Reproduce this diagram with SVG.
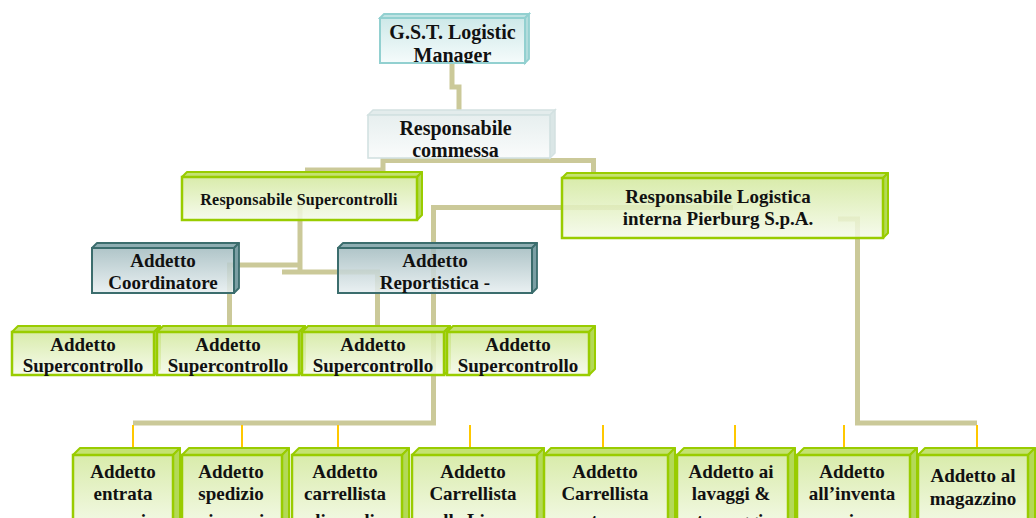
<svg xmlns="http://www.w3.org/2000/svg" width="1036" height="518" viewBox="0 0 1036 518">
  <defs>
    <linearGradient id="gGreen" x1="0" y1="0" x2="0" y2="1">
      <stop offset="0" stop-color="#d2e89c"/>
      <stop offset="1" stop-color="#f5faea"/>
    </linearGradient>
    <linearGradient id="gTeal" x1="0" y1="0" x2="0" y2="1">
      <stop offset="0" stop-color="#a2bbbf"/>
      <stop offset="1" stop-color="#e6eef0"/>
    </linearGradient>
    <linearGradient id="gCyan" x1="0" y1="0" x2="0" y2="1">
      <stop offset="0" stop-color="#c8e6e6"/>
      <stop offset="1" stop-color="#f4fbfb"/>
    </linearGradient>
    <linearGradient id="gPale" x1="0" y1="0" x2="0" y2="1">
      <stop offset="0" stop-color="#e4eded"/>
      <stop offset="1" stop-color="#f9fbfb"/>
    </linearGradient>
    <clipPath id="clipGst"><rect x="380" y="18" width="145" height="45"/></clipPath>
    <clipPath id="clipCommessa"><rect x="368" y="115" width="182" height="43"/></clipPath>
  </defs>
  <style>
    .conn { fill: none; stroke: #cbc999; stroke-width: 5; stroke-linejoin: miter; }
    .tick { stroke: #ffc800; stroke-width: 2; }
    .green .front { fill: url(#gGreen); fill-opacity: 0.85; stroke: #99cc00; stroke-width: 2.5; }
    .green .top { fill: #c4e272; stroke: #99cc00; stroke-width: 2; stroke-linejoin: round; }
    .green .side { fill: #b3d957; stroke: #99cc00; stroke-width: 2; stroke-linejoin: round; }
    .teal .front { fill: url(#gTeal); fill-opacity: 0.85; stroke: #3b6d6d; stroke-width: 2; }
    .teal .top { fill: #8dadb1; stroke: #3b6d6d; stroke-width: 1.8; stroke-linejoin: round; }
    .teal .side { fill: #7b9fa4; stroke: #3b6d6d; stroke-width: 1.8; stroke-linejoin: round; }
    .cyan .front { fill: url(#gCyan); fill-opacity: 0.9; stroke: #92d0d0; stroke-width: 2; }
    .cyan .top { fill: #bfe3e3; stroke: #92d0d0; stroke-width: 1.8; }
    .cyan .side { fill: #b2dcdc; stroke: #92d0d0; stroke-width: 1.8; }
    .pale .front { fill: url(#gPale); fill-opacity: 0.9; stroke: #d3e1e1; stroke-width: 1.6; }
    .pale .top { fill: #e3ecec; stroke: #d3e1e1; stroke-width: 1.5; }
    .pale .side { fill: #dae6e6; stroke: #d3e1e1; stroke-width: 1.5; }
    text { font-family: "Liberation Serif", "Times New Roman", serif; font-weight: bold; fill: #111; text-anchor: middle; }
    .f20 { font-size: 20px; }
    .f19 { font-size: 19px; }
    .f16 { font-size: 16px; letter-spacing: 0.2px; }
  </style>

  <!-- connectors -->
  <g id="connectors">
    <path class="conn" d="M 452 63 V 87 H 459 V 116"/>
    <path class="conn" d="M 305 170 H 383 V 160.5 H 593.5 V 174"/>
    <path class="conn" d="M 300 203 V 274"/>
    <path class="conn" d="M 300 265 H 229.5 V 332"/>
    <path class="conn" d="M 282 272 H 377.5 V 332"/>
    <path class="conn" d="M 733 207.5 H 433.5 V 423 H 133"/>
    <path class="conn" d="M 838 219 H 857.5 V 423 H 977"/>
    <g id="ticks">
      <line class="tick" x1="133" y1="425" x2="133" y2="448"/>
      <line class="tick" x1="242" y1="425" x2="242" y2="448"/>
      <line class="tick" x1="338" y1="425" x2="338" y2="448"/>
      <line class="tick" x1="470" y1="425" x2="470" y2="448"/>
      <line class="tick" x1="603" y1="425" x2="603" y2="448"/>
      <line class="tick" x1="735" y1="425" x2="735" y2="448"/>
      <line class="tick" x1="844" y1="425" x2="844" y2="448"/>
      <line class="tick" x1="977" y1="425" x2="977" y2="448"/>
    </g>
  </g>

  <!-- level 0 -->
  <g id="n_gst" class="cyan">
    <polygon class="top" points="380,18 384,14 529,14 525,18"/>
    <polygon class="side" points="525,18 529,14 529,59 525,63"/>
    <rect class="front" x="380" y="18" width="145" height="45"/>
    <g clip-path="url(#clipGst)">
      <text class="f20" x="452.5" y="39">G.S.T. Logistic</text>
      <text class="f20" x="452.5" y="62">Manager</text>
    </g>
  </g>

  <!-- level 1 -->
  <g id="n_commessa" class="pale">
    <polygon class="top" points="368,115 373,110 555,110 550,115"/>
    <polygon class="side" points="550,115 555,110 555,153 550,158"/>
    <rect class="front" x="368" y="115" width="182" height="43"/>
    <g clip-path="url(#clipCommessa)">
      <text class="f20" x="455.5" y="135">Responsabile</text>
      <text class="f20" x="455.5" y="157">commessa</text>
    </g>
  </g>

  <!-- level 2 -->
  <g id="n_supercontrolli" class="green">
    <polygon class="top" points="182,177 187,172 422,172 417,177"/>
    <polygon class="side" points="417,177 422,172 422,215 417,220"/>
    <rect class="front" x="182" y="177" width="235" height="43"/>
    <text class="f16" x="299" y="205">Responsabile Supercontrolli</text>
  </g>

  <g id="n_logistica" class="green">
    <polygon class="top" points="562,178 567,173 888,173 883,178"/>
    <polygon class="side" points="883,178 888,173 888,233 883,238"/>
    <rect class="front" x="562" y="178" width="321" height="60"/>
    <text class="f19" x="718" y="203">Responsabile Logistica</text>
    <text class="f19" x="718" y="225">interna Pierburg S.p.A.</text>
  </g>

  <!-- level 3 -->
  <g id="n_coordinatore" class="teal">
    <polygon class="top" points="92,248 97,243 239,243 234,248"/>
    <polygon class="side" points="234,248 239,243 239,288 234,293"/>
    <rect class="front" x="92" y="248" width="142" height="45"/>
    <text class="f19" x="163" y="267">Addetto</text>
    <text class="f19" x="163" y="289">Coordinatore</text>
  </g>

  <g id="n_reportistica" class="teal">
    <polygon class="top" points="338,248 343,243 537,243 532,248"/>
    <polygon class="side" points="532,248 537,243 537,288 532,293"/>
    <rect class="front" x="338" y="248" width="194" height="45"/>
    <text class="f19" x="435" y="267">Addetto</text>
    <text class="f19" x="435" y="289">Reportistica -</text>
  </g>

  <!-- level 4 -->
  <g id="n_sc1" class="green">
    <polygon class="top" points="12,332 18,326 160,326 154,332"/>
    <polygon class="side" points="154,332 160,326 160,369 154,375"/>
    <rect class="front" x="12" y="332" width="142" height="43"/>
    <text class="f19" x="83" y="350.5">Addetto</text>
    <text class="f19" x="83" y="372">Supercontrollo</text>
  </g>
  <g id="n_sc2" class="green">
    <polygon class="top" points="157,332 163,326 305,326 299,332"/>
    <polygon class="side" points="299,332 305,326 305,369 299,375"/>
    <rect class="front" x="157" y="332" width="142" height="43"/>
    <text class="f19" x="228" y="350.5">Addetto</text>
    <text class="f19" x="228" y="372">Supercontrollo</text>
  </g>
  <g id="n_sc3" class="green">
    <polygon class="top" points="302,332 308,326 450,326 444,332"/>
    <polygon class="side" points="444,332 450,326 450,369 444,375"/>
    <rect class="front" x="302" y="332" width="142" height="43"/>
    <text class="f19" x="373" y="350.5">Addetto</text>
    <text class="f19" x="373" y="372">Supercontrollo</text>
  </g>
  <g id="n_sc4" class="green">
    <polygon class="top" points="447,332 453,326 595,326 589,332"/>
    <polygon class="side" points="589,332 595,326 595,369 589,375"/>
    <rect class="front" x="447" y="332" width="142" height="43"/>
    <text class="f19" x="518" y="350.5">Addetto</text>
    <text class="f19" x="518" y="372">Supercontrollo</text>
  </g>

  <!-- level 5: boxes run past the bottom edge -->
  <g id="n_entrata" class="green">
    <polygon class="top" points="73,455 80,448 180,448 173,455"/>
    <polygon class="side" points="173,455 180,448 180,528 173,535"/>
    <rect class="front" x="73" y="455" width="100" height="80"/>
    <text class="f19" x="123" y="478">Addetto</text>
    <text class="f19" x="123" y="500">entrata</text>
    <text class="f19" x="123" y="527">merci</text>
  </g>
  <g id="n_spedizioni" class="green">
    <polygon class="top" points="182,455 189,448 289,448 282,455"/>
    <polygon class="side" points="282,455 289,448 289,528 282,535"/>
    <rect class="front" x="182" y="455" width="100" height="80"/>
    <text class="f19" x="231" y="478">Addetto</text>
    <text class="f19" x="231" y="500">spedizio</text>
    <text class="f19" x="231" y="527">ni merci</text>
  </g>
  <g id="n_carrellista_linea" class="green">
    <polygon class="top" points="292,455 299,448 409,448 402,455"/>
    <polygon class="side" points="402,455 409,448 409,528 402,535"/>
    <rect class="front" x="292" y="455" width="110" height="80"/>
    <text class="f19" x="345" y="478">Addetto</text>
    <text class="f19" x="345" y="500">carrellista</text>
    <text class="f19" x="345" y="527">linea di</text>
  </g>
  <g id="n_carrellista_linee" class="green">
    <polygon class="top" points="412,455 419,448 544,448 537,455"/>
    <polygon class="side" points="537,455 544,448 544,528 537,535"/>
    <rect class="front" x="412" y="455" width="125" height="80"/>
    <text class="f19" x="473" y="478">Addetto</text>
    <text class="f19" x="473" y="500">Carrellista</text>
    <text class="f19" x="473" y="527">alle Linee</text>
  </g>
  <g id="n_carrellista_est" class="green">
    <polygon class="top" points="544,455 551,448 675,448 668,455"/>
    <polygon class="side" points="668,455 675,448 675,528 668,535"/>
    <rect class="front" x="544" y="455" width="124" height="80"/>
    <text class="f19" x="605" y="478">Addetto</text>
    <text class="f19" x="605" y="500">Carrellista</text>
    <text class="f19" x="605" y="527">esterno</text>
  </g>
  <g id="n_lavaggi" class="green">
    <polygon class="top" points="677,455 684,448 795,448 788,455"/>
    <polygon class="side" points="788,455 795,448 795,528 788,535"/>
    <rect class="front" x="677" y="455" width="111" height="80"/>
    <text class="f19" x="731" y="478">Addetto ai</text>
    <text class="f19" x="731" y="500">lavaggi &amp;</text>
    <text class="f19" x="731" y="527">stoccaggio</text>
  </g>
  <g id="n_inventario" class="green">
    <polygon class="top" points="797,455 804,448 917,448 910,455"/>
    <polygon class="side" points="910,455 917,448 917,528 910,535"/>
    <rect class="front" x="797" y="455" width="113" height="80"/>
    <text class="f19" x="852" y="478">Addetto</text>
    <text class="f19" x="852" y="500">all’inventa</text>
    <text class="f19" x="852" y="527">rio</text>
  </g>
  <g id="n_magazzino" class="green">
    <polygon class="top" points="918,455 925,448 1035,448 1028,455"/>
    <polygon class="side" points="1028,455 1035,448 1035,528 1028,535"/>
    <rect class="front" x="918" y="455" width="110" height="80"/>
    <text class="f19" x="973" y="482">Addetto al</text>
    <text class="f19" x="973" y="505">magazzino</text>
  </g>
</svg>
